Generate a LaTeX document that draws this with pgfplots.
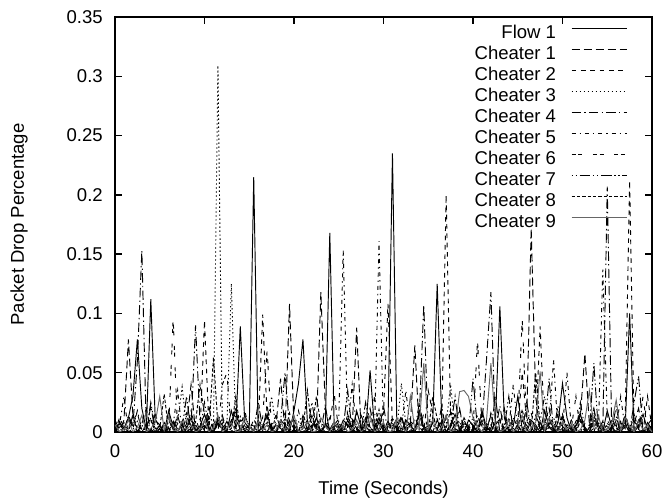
\documentclass[border=0pt]{standalone}
\usepackage{fontspec}
\setmainfont{Liberation Sans}
\usepackage{pgfplots}
\usepackage{pgfplotstable}
\pgfplotsset{compat=1.18}
\pgfplotstableread{
t f c1 c2 c3 c4 c5 c6 c7 c8 c9
0 0 0.005 0 0.003 0.01 0 0.007 0.002 0 0.006
0.5 0.008 0 0.012 0 0.002 0.006 0 0.009 0.004 0
1 0.003 0.01 0.004 0.006 0 0.03 0.003 0 0.008 0.002
1.5 0.012 0.078 0 0 0.014 0 0.012 0.004 0 0.01
2 0.03 0.014 0.009 0.002 0.005 0.003 0 0.013 0.015 0
2.5 0.078 0 0.016 0.009 0.06 0.018 0.001 0 0.002 0.004
3 0.02 0.007 0.001 0 0.153 0.002 0.009 0.006 0 0.014
3.5 0.002 0.02 0.006 0.004 0.001 0 0.005 0 0.006 0
4 0.112 0 0 0.012 0.022 0.009 0 0.025 0.011 0.003
4.5 0.01 0.003 0.011 0.003 0 0.004 0.016 0.003 0 0.008
5 0.006 0.005 0.003 0 0.006 0 0.002 0 0.003 0.03
5.5 0 0 0 0.006 0.003 0.007 0 0.008 0.032 0.001
6 0.018 0.01 0.012 0 0 0 0.004 0.002 0.001 0.012
6.5 0.004 0.002 0.004 0.002 0.01 0.006 0.096 0.009 0 0.005
7 0 0.014 0 0.009 0.002 0.035 0 0 0.007 0
7.5 0.008 0 0.009 0.038 0 0 0.007 0.004 0.005 0.009
8 0.003 0.007 0.016 0.004 0.014 0.003 0 0.03 0 0.002
8.5 0.012 0.04 0.001 0.012 0.005 0.018 0.003 0 0.004 0.006
9 0 0 0.006 0.003 0.09 0.002 0.012 0.006 0.008 0
9.5 0.005 0.003 0 0 0.008 0 0 0 0.04 0.002
10 0.015 0.005 0.094 0.006 0.001 0.009 0.001 0.025 0.015 0.01
10.5 0.002 0 0.003 0 0.022 0.004 0.009 0.003 0.002 0
11 0 0.01 0 0.002 0 0 0.005 0 0.063 0.004
11.5 0.01 0.002 0.012 0.309 0.006 0.007 0 0.008 0.006 0.014
12 0.006 0.014 0.004 0 0.003 0 0.04 0.002 0.011 0
12.5 0 0 0 0.004 0 0.006 0.05 0.009 0 0.003
13 0.018 0.007 0.009 0.125 0.01 0.011 0 0 0.003 0.008
13.5 0.004 0.02 0.016 0.003 0.002 0 0.004 0.004 0.03 0
14 0.089 0 0.001 0 0 0.003 0.01 0.013 0.001 0.001
14.5 0.008 0.003 0.006 0.006 0.014 0.018 0 0 0 0.012
15 0.003 0.005 0 0 0.005 0.002 0.007 0.006 0.007 0.005
15.5 0.215 0 0.011 0.002 0 0 0 0 0.005 0
16 0 0.01 0.003 0.009 0.008 0.009 0.003 0.025 0 0.009
16.5 0.005 0.002 0.099 0 0.001 0.004 0.012 0.003 0.004 0.002
17 0.015 0.014 0.012 0.004 0.022 0 0.069 0 0.008 0.006
17.5 0.002 0 0.004 0.03 0 0.007 0.001 0.008 0 0
18 0 0.007 0 0.003 0.006 0 0.009 0.002 0.015 0.002
18.5 0.01 0.045 0.009 0 0.003 0.006 0.005 0.009 0.002 0.01
19 0.006 0 0.016 0.006 0 0.011 0 0.05 0 0
19.5 0 0.108 0.001 0 0.01 0 0.016 0.004 0.006 0.004
20 0.018 0.005 0.006 0.002 0.002 0.003 0.002 0.013 0.011 0.014
20.5 0.041 0 0 0.009 0 0.018 0 0 0 0
21 0.078 0.01 0.011 0 0.014 0.002 0.004 0.006 0.003 0.003
21.5 0.008 0.002 0.003 0.004 0.005 0 0.01 0 0.035 0.008
22 0.003 0.014 0 0.012 0 0.009 0 0.025 0.001 0
22.5 0.012 0 0.012 0.003 0.008 0.004 0.007 0.003 0.03 0.001
23 0 0.118 0.004 0 0.001 0 0 0 0.007 0.012
23.5 0.005 0.02 0 0.006 0.022 0.007 0.003 0.008 0.005 0.005
24 0.168 0 0.009 0 0 0 0.012 0.002 0 0
24.5 0.002 0.003 0.032 0.002 0.006 0.006 0 0.009 0.004 0.009
25 0 0.005 0.001 0.009 0.003 0.011 0.001 0 0.008 0.002
25.5 0.01 0 0.006 0 0 0.153 0.009 0.004 0 0.006
26 0.006 0.01 0 0.004 0.01 0.003 0.005 0.035 0.015 0
26.5 0 0.002 0.011 0.012 0.002 0.04 0 0 0.002 0.002
27 0.018 0.088 0.003 0.003 0 0.002 0.016 0.006 0 0.01
27.5 0.004 0 0 0 0.014 0 0.002 0 0.006 0
28 0 0.007 0.012 0.006 0.005 0.009 0 0.025 0.011 0.004
28.5 0.052 0.02 0.004 0 0 0.004 0.004 0.003 0 0.014
29 0.003 0 0 0.002 0.008 0 0.03 0 0.003 0
29.5 0.012 0.003 0.009 0.009 0.001 0.161 0 0.008 0.019 0.003
30 0 0.005 0.016 0 0.022 0 0.007 0.002 0.001 0.008
30.5 0.005 0 0.108 0.004 0 0.006 0 0.009 0 0
31 0.235 0.01 0.006 0.012 0.006 0.011 0.003 0 0.007 0.001
31.5 0.002 0.002 0 0.003 0.003 0 0.012 0.004 0.005 0.012
32 0 0.014 0.011 0.041 0 0.003 0 0.013 0 0.005
32.5 0.01 0 0.003 0.006 0.01 0.035 0.001 0 0.004 0
33 0.006 0.007 0 0 0.002 0.002 0.009 0.006 0.008 0.03
33.5 0 0.073 0.012 0.002 0 0 0.005 0 0 0.002
34 0.018 0 0.004 0.009 0.014 0.009 0 0.025 0.015 0.006
34.5 0.004 0.003 0 0 0.107 0.004 0.016 0.003 0.002 0.058
35 0 0.005 0.035 0.004 0 0 0.002 0 0 0.002
35.5 0.008 0 0.016 0.012 0.008 0.007 0 0.008 0.03 0.01
36 0.125 0.01 0.001 0.003 0.001 0 0.004 0.002 0.011 0
36.5 0.012 0.002 0.006 0 0.022 0.006 0.01 0.009 0 0.004
37 0 0.014 0.2 0.006 0 0.011 0 0 0.003 0.014
37.5 0.005 0 0.011 0.04 0.006 0 0.007 0.004 0.019 0
38 0.015 0.007 0.003 0.002 0.003 0.003 0 0.03 0.001 0.003
38.5 0.002 0.02 0 0.009 0 0.018 0.003 0 0 0.034
39 0 0 0.012 0 0.01 0.002 0.012 0.006 0.007 0.035
39.5 0.01 0.003 0.004 0.004 0.002 0 0 0 0.005 0.03
40 0.006 0.005 0 0.012 0 0.009 0.001 0.045 0 0.012
40.5 0 0 0.009 0.003 0.014 0.004 0.078 0.003 0.004 0.005
41 0.018 0.01 0.016 0 0.005 0 0.005 0 0.008 0
41.5 0.004 0.002 0.001 0.006 0.06 0.007 0 0.008 0 0.009
42 0 0.014 0.006 0 0.118 0 0.016 0.002 0.015 0.058
42.5 0.008 0 0 0.002 0.001 0.006 0.002 0.03 0.002 0.006
43 0.106 0.007 0.011 0.009 0.022 0.011 0 0 0 0
43.5 0.012 0.02 0.003 0 0 0 0.004 0.004 0.006 0.002
44 0 0 0 0.004 0.006 0.003 0.01 0.03 0.011 0.01
44.5 0.005 0.003 0.012 0.012 0.003 0.04 0 0 0 0
45 0.03 0.005 0.004 0.003 0 0.002 0.007 0.006 0.003 0.004
45.5 0.002 0 0.05 0 0.01 0 0.096 0 0.019 0.014
46 0 0.01 0.009 0.006 0.002 0.009 0.003 0.025 0.001 0
46.5 0.01 0.172 0.016 0 0 0.004 0.012 0.003 0 0.003
47 0.006 0.03 0.001 0.002 0.014 0 0 0 0.05 0.008
47.5 0 0 0.089 0.009 0.005 0.007 0.001 0.008 0.005 0.051
48 0.018 0.007 0 0.03 0 0 0.009 0.002 0 0.001
48.5 0.004 0.02 0.011 0.004 0.008 0.006 0.005 0.045 0.004 0.012
49 0 0 0.003 0.012 0.001 0.061 0 0 0.008 0.005
49.5 0.008 0.003 0 0.003 0.022 0 0.016 0.004 0 0
50 0.041 0.005 0.012 0 0 0.003 0.002 0.013 0.015 0.009
50.5 0.012 0 0.004 0.006 0.006 0.05 0 0 0.002 0.002
51 0 0.01 0 0 0.003 0.002 0.004 0.006 0 0.006
51.5 0.005 0.002 0.009 0.002 0 0 0.03 0 0.006 0
52 0.015 0.014 0.016 0.009 0.01 0.009 0 0.025 0.011 0.002
52.5 0.002 0.066 0.001 0 0.002 0.004 0.007 0.003 0 0.01
53 0 0.007 0.006 0.004 0 0 0 0 0.003 0.035
53.5 0.01 0.02 0 0.012 0.014 0.007 0.003 0.058 0.019 0.004
54 0.006 0 0.011 0.003 0.005 0 0.012 0.002 0.001 0.014
54.5 0 0.003 0.003 0 0 0.137 0 0.009 0 0
55 0.018 0.005 0 0.006 0.207 0.011 0.001 0 0.007 0.003
55.5 0.004 0 0.012 0 0.001 0 0.009 0.004 0.005 0.008
56 0 0.01 0.004 0.002 0.022 0.003 0.005 0.013 0 0.027
56.5 0.008 0.002 0 0.009 0 0.03 0 0 0.004 0.001
57 0.003 0.014 0.009 0 0.006 0.002 0.016 0.006 0.008 0.012
57.5 0.1 0 0.212 0.004 0.003 0 0.002 0 0 0.005
58 0 0.007 0.001 0.012 0 0.009 0 0.025 0.015 0
58.5 0.005 0.02 0.006 0.003 0.01 0.004 0.004 0.047 0.002 0.009
59 0.015 0 0 0 0.002 0 0.03 0 0 0.002
59.5 0.002 0.003 0.03 0.006 0 0.007 0 0.008 0.006 0.006
60 0 0.005 0.003 0 0.014 0 0.007 0.002 0.011 0
}\data
\begin{document}
\begin{tikzpicture}
\path[use as bounding box] (-86.25pt,-49.5pt) rectangle (414pt,324pt);
\begin{axis}[
  at={(0pt,0pt)}, anchor=south west,
  scale only axis, width=402.75pt, height=311.25pt,
  xmin=0, xmax=60, ymin=0, ymax=0.35,
  xtick={0,10,20,30,40,50,60},
  ytick={0,0.05,0.1,0.15,0.2,0.25,0.3,0.35},
  yticklabels={0,0.05,0.1,0.15,0.2,0.25,0.3,0.35},
  xticklabels={0,10,20,30,40,50,60},
  scaled y ticks=false,
  tick align=inside, major tick length=5pt,
  axis line style={line width=1.1pt},
  every tick/.style={line width=1pt, black},
  tick label style={font=\fontsize{13.9}{16}\selectfont},
  xticklabel style={anchor=base, yshift=-19.5pt, inner sep=0pt},
  yticklabel style={anchor=east, xshift=-9pt, inner sep=0pt},
  label style={font=\fontsize{13.9}{16}\selectfont},
  xlabel={Time (Seconds)},
  ylabel={Packet Drop Percentage},
  xlabel style={at={(axis description cs:0.5,0)}, anchor=base, yshift=-47.25pt, inner sep=0pt},
  ylabel style={at={(axis description cs:0,0.5)}, anchor=center, yshift=72pt, inner sep=0pt},
  no markers,
  every axis plot/.append style={line width=0.7pt, black},
  legend plot pos=right,
  legend cell align=right,
  legend image code/.code={\draw[#1] (0pt,4.5pt) -- (41.25pt,4.5pt);},
  legend style={font=\fontsize{13.9}{16}\selectfont, draw=none, fill=none,
    at={(axis description cs:1,1)}, anchor=north east, xshift=-18.75pt, yshift=-5.5pt,
    inner sep=0pt, outer sep=0pt, row sep=0pt, column sep=11.25pt,
    nodes={inner sep=0pt, text height=10.6pt, text depth=5.15pt}},
]
\addplot[black, solid] table[x=t,y=f] {\data};
\addlegendentry{Flow 1}
\addplot[black, dash pattern=on 6pt off 3pt] table[x=t,y=c1] {\data};
\addlegendentry{Cheater 1}
\addplot[black, dash pattern=on 3.5pt off 3.5pt] table[x=t,y=c2] {\data};
\addlegendentry{Cheater 2}
\addplot[black, dash pattern=on 1pt off 2pt] table[x=t,y=c3] {\data};
\addlegendentry{Cheater 3}
\addplot[black, dash pattern=on 7pt off 2.5pt on 1pt off 2.5pt] table[x=t,y=c4] {\data};
\addlegendentry{Cheater 4}
\addplot[black, dash pattern=on 3pt off 3pt on 1pt off 3pt] table[x=t,y=c5] {\data};
\addlegendentry{Cheater 5}
\addplot[black, dash pattern=on 3pt off 2pt on 3pt off 8pt] table[x=t,y=c6] {\data};
\addlegendentry{Cheater 6}
\addplot[black, dash pattern=on 1pt off 2pt on 1pt off 2pt on 8pt off 2pt] table[x=t,y=c7] {\data};
\addlegendentry{Cheater 7}
\addplot[black, dash pattern=on 2.5pt off 1.5pt] table[x=t,y=c8] {\data};
\addlegendentry{Cheater 8}
\addplot[black!60, solid] table[x=t,y=c9] {\data};
\addlegendentry{Cheater 9}
\end{axis}
\end{tikzpicture}
\end{document}
